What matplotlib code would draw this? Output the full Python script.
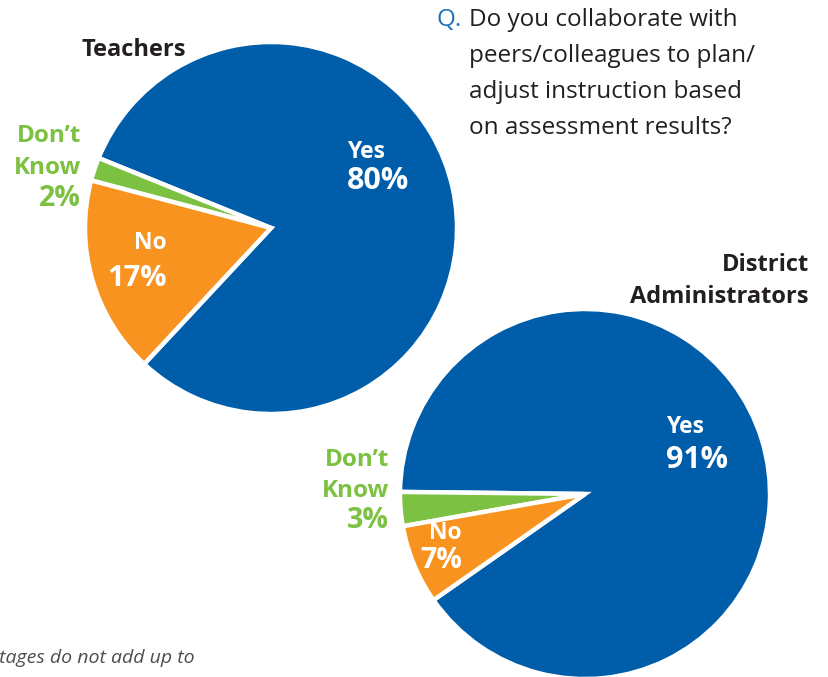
import matplotlib.pyplot as plt

W, H = 829, 677

categories = ["Yes", "Don\u2019t\nKnow", "No"]
teachers = [80, 2, 17]
administrators = [91, 3, 7]

colors = ["#005DAA", "#7CC142", "#F7931E"]
blue, green, orange = colors
ink = "#231F20"

question = ["Do you collaborate with",
            "peers/colleagues to plan/",
            "adjust instruction based",
            "on assessment results?"]

plt.rcParams['font.family'] = ['Open Sans', 'DejaVu Sans']

fig = plt.figure(figsize=(W / 100, H / 100), dpi=100)


def px(x, y):
    # pixel coords (origin top-left) -> figure fraction
    return x / W, 1 - y / H


def pie_axes(cx, cy, r):
    return fig.add_axes([(cx - r) / W, (H - cy - r) / H, 2 * r / W, 2 * r / H])


def draw_pie(ax, values, start):
    wedges, _ = ax.pie(values, colors=colors, startangle=start, counterclock=True,
                       wedgeprops=dict(edgecolor="white", linewidth=3.2))
    for w in wedges:
        w.set_clip_on(False)
    ax.set_xlim(-1, 1)
    ax.set_ylim(-1, 1)
    ax.axis("off")


# Teachers
ax_t = pie_axes(271, 228, 186)
draw_pie(ax_t, teachers, -133)

# District Administrators
ax_a = pie_axes(585, 494, 185)
draw_pie(ax_a, administrators, -145)


def label(x, y, name, value, color, ha, gap=31, size1=15, size2=20):
    lines = name.split("\n")
    for i, ln in enumerate(lines):
        fig.text(*px(x, y + i * gap), ln, color=color, ha=ha, va="center",
                 fontsize=size1, fontweight="bold")
    fig.text(*px(x, y + len(lines) * gap - 2), f"{value}%", color=color, ha=ha,
             va="center", fontsize=size2, fontweight="bold")


# slice labels, teachers
label(347, 152, categories[0], teachers[0], "white", "left", gap=31, size1=16.5, size2=22)
label(81, 136, categories[1], teachers[1], green, "right", gap=32, size1=17.5, size2=20.5)
label(167, 243, categories[2], teachers[2], "white", "right", gap=38, size1=16.5, size2=21)

# slice labels, administrators
label(666, 427, categories[0], administrators[0], "white", "left", gap=35, size1=16.5, size2=22)
label(389, 460, categories[1], administrators[1], green, "right", gap=31, size1=17.5, size2=20.5)
label(462, 533, categories[2], administrators[2], "white", "right", gap=30, size1=16.5, size2=20.5)

# group titles
fig.text(*px(134, 50), "Teachers", color=ink, ha="center", va="center",
         fontsize=17, fontweight="bold")
fig.text(*px(809, 265), "District", color=ink, ha="right", va="center",
         fontsize=17, fontweight="bold")
fig.text(*px(809, 297), "Administrators", color=ink, ha="right", va="center",
         fontsize=17, fontweight="bold")

# question
fig.text(*px(437, 20), "Q.", color="#1F72B8", ha="left", va="center", fontsize=17.5)
for i, ln in enumerate(question):
    fig.text(*px(469, 20 + i * 36), ln, color=ink, ha="left", va="center", fontsize=17.5)

# footnote (runs off the left edge)
fig.text(*px(195, 658), "*Percentages do not add up to", color="#4D4D4F",
         ha="right", va="center", fontsize=14, style="italic")

fig.savefig("out.png", dpi=100)
